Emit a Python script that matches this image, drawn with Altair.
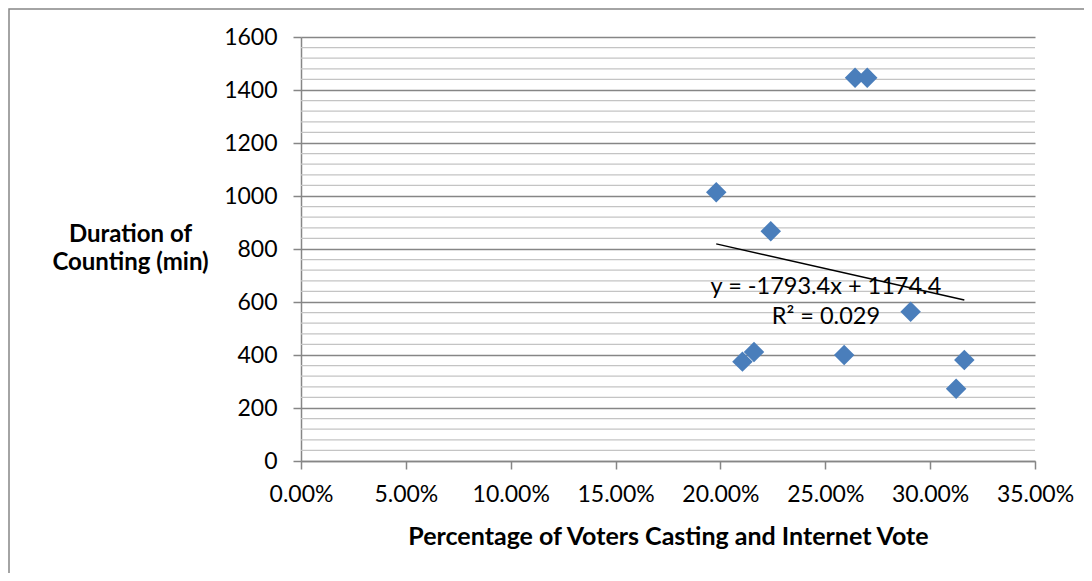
import altair as alt
import pandas as pd

# Data
pct_internet = [0.198, 0.2105, 0.216, 0.224, 0.259, 0.2642, 0.270, 0.2907, 0.3124, 0.3163]
duration_min = [1014, 375, 411, 867, 400, 1446, 1446, 563, 273, 381]

trend_slope = -1793.4
trend_intercept = 1174.4
trend_label = ["y = -1793.4x + 1174.4", "R² = 0.029"]

x_ticks = [0, 0.05, 0.10, 0.15, 0.20, 0.25, 0.30, 0.35]
y_ticks = [0, 200, 400, 600, 800, 1000, 1200, 1400, 1600]
y_minor = [v for v in range(40, 1600, 40) if v % 200 != 0]

FONT = "Lato"
W, H = 734, 424

pts = pd.DataFrame({"pct": pct_internet, "dur": duration_min})
x_min, x_max = min(pct_internet), max(pct_internet)
trend = pd.DataFrame({
    "pct": [x_min, x_max],
    "dur": [trend_slope * x_min + trend_intercept, trend_slope * x_max + trend_intercept],
})
labels = pd.DataFrame({"pct": [0.2503, 0.2503], "dur": [657, 545], "text": trend_label})
minor = pd.DataFrame({"v": y_minor})

xs = alt.Scale(domain=[0, 0.35], nice=False, zero=True)
ys = alt.Scale(domain=[0, 1600], nice=False)

x_axis = alt.Axis(
    values=x_ticks, format=".2%", grid=False,
    title="Percentage of Voters Casting and Internet Vote",
    titleFontWeight="bold", titleFontSize=25, titleFont=FONT, titleColor="#000000",
    titleBaseline="middle", titleY=75,
    labelFont=FONT, labelFontSize=23, labelColor="#000000", labelPadding=14,
    labelFlush=False, labelOverlap=False,
    tickSize=8, tickColor="#868686", tickWidth=1.5,
    domainColor="#868686", domainWidth=1.5,
)
y_axis = alt.Axis(
    values=y_ticks, format="d", grid=True, gridColor="#868686", gridWidth=1.5,
    title=["Duration of", "Counting (min)"],
    titleFontWeight="bold", titleFontSize=24, titleFont=FONT, titleColor="#000000",
    titleAngle=0, titleAlign="center", titleBaseline="top", titleX=-171, titleY=185,
    titleLineHeight=28,
    labelFont=FONT, labelFontSize=23, labelColor="#000000", labelPadding=16,
    labelFlush=False, labelOverlap=False,
    tickSize=8, tickColor="#868686", tickWidth=1.5,
    domainColor="#868686", domainWidth=1.5,
)

minor_grid = alt.Chart(minor).mark_rule(color="#c4c4c4", strokeWidth=1.3).encode(
    y=alt.Y("v:Q", scale=ys, axis=y_axis)
)

points = alt.Chart(pts).mark_point(
    shape="diamond", filled=True, size=420, color="#4a7ebb", opacity=1
).encode(
    x=alt.X("pct:Q", scale=xs, axis=x_axis),
    y=alt.Y("dur:Q", scale=ys, axis=y_axis),
)

trend_line = alt.Chart(trend).mark_line(color="#000000", strokeWidth=1.5).encode(
    x=alt.X("pct:Q", scale=xs, axis=x_axis), y=alt.Y("dur:Q", scale=ys, axis=y_axis)
)

trend_text = alt.Chart(labels).mark_text(
    font=FONT, fontSize=23.5, color="#000000", align="center", baseline="middle"
).encode(
    x=alt.X("pct:Q", scale=xs, axis=x_axis), y=alt.Y("dur:Q", scale=ys, axis=y_axis),
    text="text:N",
)

border = alt.Chart(pd.DataFrame({"a": [0]})).mark_rect(
    fill=None, stroke="#878787", strokeWidth=1.5, clip=False
).encode(
    x=alt.value(-292), x2=alt.value(1200), y=alt.value(-28), y2=alt.value(800)
)

chart = alt.layer(minor_grid, points, trend_line, trend_text, border).properties(
    width=W, height=H,
    autosize=alt.AutoSizeParams(type="none"),
    padding={"left": 293, "top": 29, "right": 49, "bottom": 112},
    background="white",
).configure_view(stroke=None)

chart.save("out.html", embed_options={"renderer": "svg", "actions": False})
